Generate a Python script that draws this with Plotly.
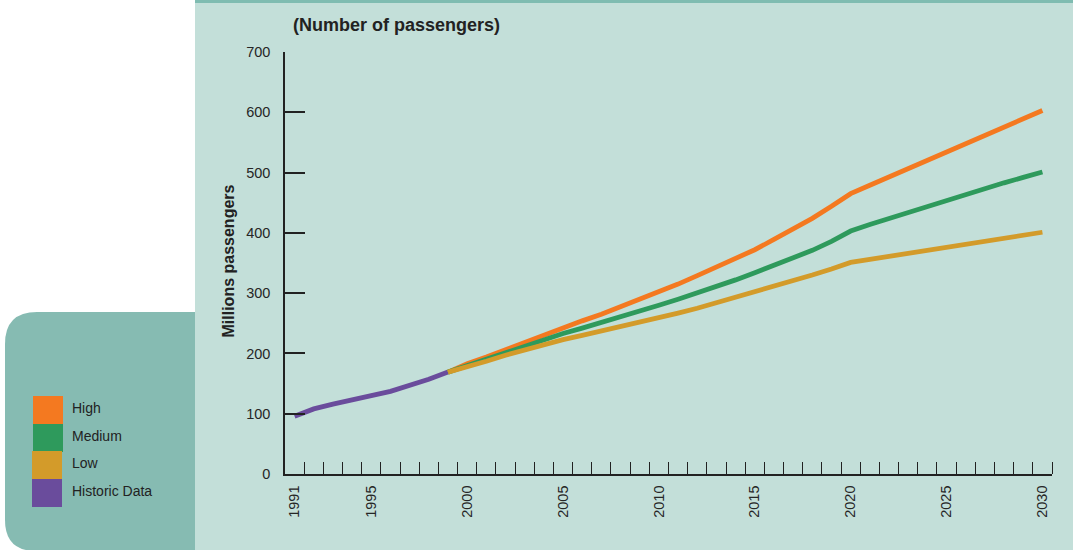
import plotly.graph_objects as go

# ---------------- data ----------------
hist_years = list(range(1991, 2000))
hist_values = [96, 108, 116, 124, 130, 137, 146, 157, 169]

proj_years = list(range(1999, 2031))
high_values = [169, 183, 194, 206, 218, 231, 244, 254, 265, 277, 289, 302, 315, 329, 343, 357,
               372, 389, 406, 424, 444, 465, 479, 493, 507, 521, 535, 548, 561, 575, 589, 603]
medium_values = [169, 180, 191, 202, 213, 223, 233, 242, 251, 261, 270, 280, 290, 300, 311, 322,
                 334, 346, 358, 371, 386, 403, 414, 424, 434, 444, 455, 464, 473, 483, 492, 501]
low_values = [169, 177, 187, 197, 206, 215, 223, 230, 237, 244, 251, 259, 267, 275, 284, 293,
              303, 312, 321, 330, 340, 351, 356, 361, 366, 371, 376, 381, 386, 391, 396, 401]

series_names = ["High", "Medium", "Low", "Historic Data"]
series_colors = ["#f47920", "#2e9a5c", "#d39b2a", "#6a4c9c"]

x_label_years = [1991, 1995, 2000, 2005, 2010, 2015, 2020, 2025, 2030]
x_tick_marks = [y + 0.5 for y in range(1991, 2031)]
y_ticks = [0, 100, 200, 300, 400, 500, 600, 700]

# ---------------- geometry helpers (pixels -> paper) ----------------
W, H = 1073, 550
L, R, T, B = 285, 21, 52, 76
PW, PH = W - L - R, H - T - B


def px(x):
    return (x - L) / PW


def py(y):
    return (H - B - y) / PH


fig = go.Figure()

fig.add_trace(go.Scatter(x=hist_years, y=hist_values, mode="lines", name=series_names[3],
                         line=dict(color=series_colors[3], width=4.8), showlegend=False))
fig.add_trace(go.Scatter(x=proj_years, y=high_values, mode="lines", name=series_names[0],
                         line=dict(color=series_colors[0], width=4.8), showlegend=False))
fig.add_trace(go.Scatter(x=proj_years, y=medium_values, mode="lines", name=series_names[1],
                         line=dict(color=series_colors[1], width=4.8), showlegend=False))
fig.add_trace(go.Scatter(x=proj_years, y=low_values, mode="lines", name=series_names[2],
                         line=dict(color=series_colors[2], width=4.8), showlegend=False))

shapes = []
# main panel background
shapes.append(dict(type="rect", xref="paper", yref="paper", layer="below",
                   x0=px(195), x1=px(W + 5), y0=py(H + 5), y1=py(0),
                   fillcolor="#c3dfd9", line=dict(width=0)))
# top strip
shapes.append(dict(type="rect", xref="paper", yref="paper", layer="below",
                   x0=px(195), x1=px(W + 5), y0=py(3), y1=py(-2),
                   fillcolor="#7fbcb1", line=dict(width=0)))
# left rounded legend box
path = (f"M {px(195)},{py(312)} L {px(37)},{py(312)} Q {px(5)},{py(312)} {px(5)},{py(344)} "
        f"L {px(5)},{py(520)} Q {px(5)},{py(551)} {px(36)},{py(551)} L {px(195)},{py(551)} Z")
shapes.append(dict(type="path", xref="paper", yref="paper", layer="below", path=path,
                   fillcolor="#86bbb2", line=dict(width=0)))

annotations = []
# legend swatches + labels
sw_top = [396, 424, 451, 479]
sw_x = [(33, 63), (33, 63), (32, 62), (32, 62)]
for i, name in enumerate(series_names):
    x0, x1 = sw_x[i]
    shapes.append(dict(type="rect", xref="paper", yref="paper",
                       x0=px(x0), x1=px(x1), y0=py(sw_top[i] + 28), y1=py(sw_top[i]),
                       fillcolor=series_colors[i], line=dict(width=0)))
    annotations.append(dict(xref="paper", yref="paper", x=px(70), y=py(sw_top[i] + 12),
                            text=name, showarrow=False, xanchor="left", yanchor="middle",
                            font=dict(family="Liberation Sans, Arial, sans-serif", size=14,
                                      color="#222222")))

# title
annotations.append(dict(xref="paper", yref="paper", x=px(291), y=py(25),
                        text="<b>(Number of passengers)</b>", showarrow=False,
                        xanchor="left", yanchor="middle",
                        font=dict(family="Liberation Sans, Arial, sans-serif", size=18,
                                  color="#222222")))
# y-axis title
annotations.append(dict(xref="paper", yref="paper", x=px(228), y=py(261.5),
                        text="<b>Millions passengers</b>", showarrow=False, textangle=-90,
                        xanchor="center", yanchor="middle",
                        font=dict(family="Liberation Sans, Arial, sans-serif", size=16,
                                  color="#222222")))

tick_font = dict(family="Liberation Sans, Arial, sans-serif", size=14.5, color="#262626")

fig.update_layout(
    width=W, height=H,
    margin=dict(l=L, r=R, t=T, b=B, pad=0),
    paper_bgcolor="white",
    plot_bgcolor="rgba(0,0,0,0)",
    shapes=shapes,
    annotations=annotations,
    xaxis=dict(range=[1990.5, 2030.5], tickmode="array", tickvals=x_label_years,
               ticktext=[str(y) for y in x_label_years], ticks="", tickangle=-90,
               tickfont=tick_font, showgrid=False, zeroline=False,
               showline=True, linecolor="#222222", linewidth=1.5,
               ticklabelstandoff=4,
               minor=dict(tickmode="array", tickvals=x_tick_marks, ticks="inside",
                          ticklen=12, tickwidth=1.3, tickcolor="#222222", showgrid=False)),
    yaxis=dict(range=[0, 700], tickmode="array", tickvals=y_ticks, ticks="inside",
               ticklen=20, tickwidth=1.5, tickcolor="#222222",
               tickfont=tick_font, showgrid=False, zeroline=False,
               showline=True, linecolor="#222222", linewidth=1.5,
               ticklabelstandoff=10),
)

fig.write_html("out.html")
